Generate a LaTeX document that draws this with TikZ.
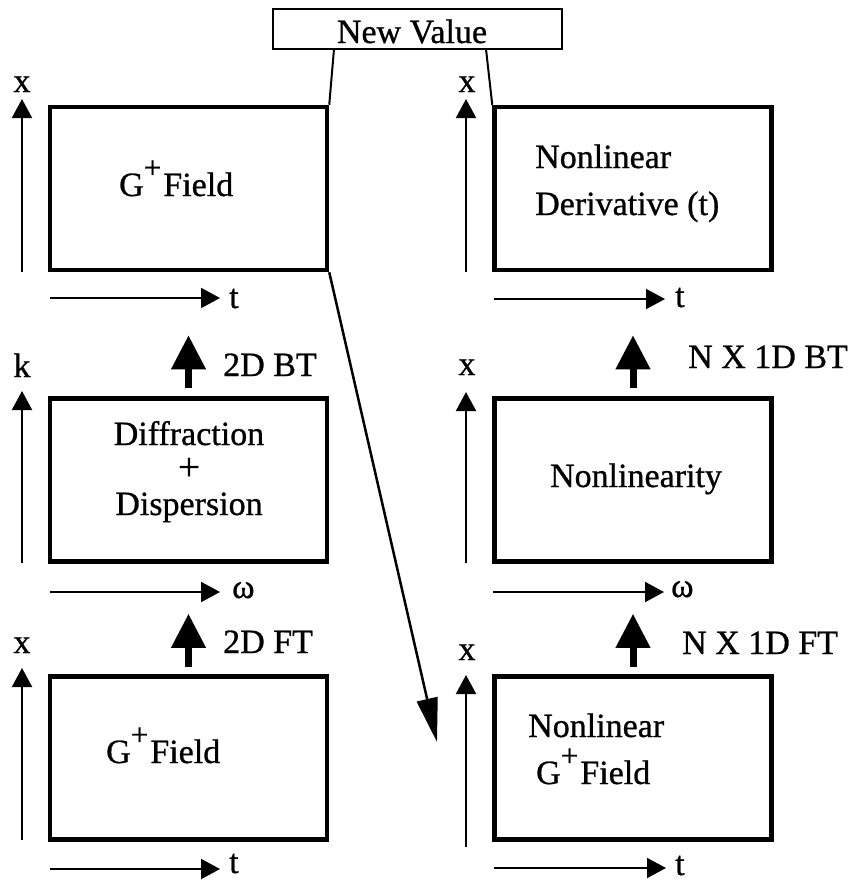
\documentclass[tikz,border=0pt]{standalone}
\usepackage{fontspec}
\setmainfont{Liberation Serif}[FakeBold=0.8]
\usetikzlibrary{arrows.meta}
\newcommand{\bigplus}{\scalebox{1.15}{+}}
\newcommand{\Gplus}{G\raisebox{18pt}{\fontsize{24}{24}\selectfont\scalebox{1.3}{+}}\hspace{2pt}Field}
\begin{document}
\begin{tikzpicture}[x=1pt,y=-1pt,
  panel/.style={draw, line width=4.5pt, minimum width=277pt, minimum height=163pt, inner sep=0pt},
  lbl/.style={inner sep=0pt, font=\fontsize{34}{40}\selectfont},
  axis/.style={line width=2pt, -{Triangle[length=19pt,width=20pt]}},
  bigarrow/.style={line width=7pt, -{Triangle[length=34pt,width=33pt]}},
  link/.style={line width=2pt}]
\useasboundingbox (0,0) rectangle (853,887);

% processing panels
\node[panel] (tl) at (188.5,188.5) {};
\node[panel] (ml) at (188.5,480) {};
\node[panel] (bl) at (188.5,758) {};
\node[panel] (tr) at (633,188.5) {};
\node[panel] (mr) at (633,480) {};
\node[panel] (br) at (633,758) {};

% value box on top
\node[draw, line width=2pt, minimum width=289pt, minimum height=40pt, inner sep=0pt] (nv) at (417.5,29) {};
\node[lbl, anchor=base] (nvT) at (412,43) {New Value};
\coordinate (nvL) at (334,49);
\coordinate (nvR) at (486,49);
\draw[link] (nvL) -- (tl.north east);
\draw[link] (nvR) -- (tr.north west);

% panel texts (multi-line nodes sit on the baseline of their last line)
\node[lbl, anchor=base west] (tlT) at (119,196) {\Gplus};
\node[lbl, anchor=base west, align=left, font=\fontsize{34}{47}\selectfont]
  (trT) at (535,215) {Nonlinear\\Derivative (t)};
\node[lbl, anchor=base, align=center, font=\fontsize{34}{35}\selectfont]
  (mlT) at (189,515) {Diffraction\\\bigplus\\Dispersion};
\node[lbl, anchor=base] (mrT) at (636,487) {Nonlinearity};
\node[lbl, anchor=base west] (blT) at (106,763) {\Gplus};
\node[lbl, anchor=base west, align=left, font=\fontsize{34}{47}\selectfont]
  (brT) at (528,784) {Nonlinear\\\hspace*{8pt}\Gplus};

% transform steps
\draw[bigarrow, shorten <=7pt, shorten >=50pt] (bl.north) -- (ml.south);
\draw[bigarrow, shorten <=8pt, shorten >=63pt] (ml.north) -- (tl.south);
\draw[bigarrow, shorten <=7pt, shorten >=50pt] (br.north) -- (mr.south);
\draw[bigarrow, shorten <=8pt, shorten >=63pt] (mr.north) -- (tr.south);
\node[lbl, anchor=base west] (ftL) at (223,653) {2D FT};
\node[lbl, anchor=base west] (btL) at (223,376) {2D BT};
\node[lbl, anchor=base west] (ftR) at (682,654) {N X 1D FT};
\node[lbl, anchor=base west] (btR) at (688,368) {N X 1D BT};

% feed of the field into the nonlinear step
\coordinate (dtip) at (437,742);
\draw[line width=2.5pt, -{Triangle[length=44pt,width=21pt]}] (tl.south east) -- (dtip);

% axes, left column
\draw[axis] (22,272) -- (22,99);
\draw[axis] (22,563) -- (22,391);
\draw[axis] (22,840) -- (22,668);
\draw[axis] (50,298) -- (220,298);
\draw[axis] (50,592) -- (220,592);
\draw[axis] (50,869) -- (220,869);
\node[lbl, anchor=base] (ax1) at (22,92) {x};
\node[lbl, anchor=base] (ax2) at (22,377) {k};
\node[lbl, anchor=base] (ax3) at (22,653) {x};
\node[lbl, anchor=base west] (ah1) at (229,308) {t};
\node[lbl, anchor=base west] (ah2) at (232,598) {ω};
\node[lbl, anchor=base west] (ah3) at (229,873) {t};

% axes, right column
\draw[axis] (466,272) -- (466,99);
\draw[axis] (466,563) -- (466,392);
\draw[axis] (466,847) -- (466,675);
\draw[axis] (494,299) -- (665,299);
\draw[axis] (493,592) -- (664,592);
\draw[axis] (494,868) -- (666,868);
\node[lbl, anchor=base] (ax4) at (467,92) {x};
\node[lbl, anchor=base] (ax5) at (467,375) {x};
\node[lbl, anchor=base] (ax6) at (467,660) {x};
\node[lbl, anchor=base west] (ah4) at (675,307) {t};
\node[lbl, anchor=base west] (ah5) at (671,597) {ω};
\node[lbl, anchor=base west] (ah6) at (675,875) {t};
\end{tikzpicture}
\end{document}
